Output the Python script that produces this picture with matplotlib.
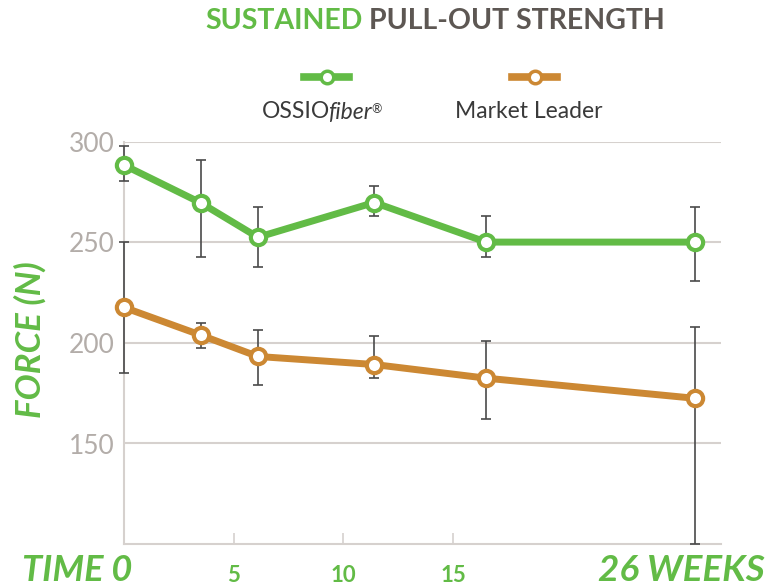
import matplotlib as mpl
mpl.use('Agg')
import matplotlib.pyplot as plt
from matplotlib.lines import Line2D

# weeks after implantation
weeks = [0, 3.5, 6.1, 11.4, 16.5, 26]

# OSSIOfiber pull-out force (N), mean and error bar ends
ossio = [288.5, 269.7, 252.6, 269.9, 250.2, 250.2]
ossio_hi = [298, 291.2, 267.6, 278.2, 263.3, 267.7]
ossio_lo = [280.4, 243, 237.8, 263.3, 242.8, 230.7]

# market leader pull-out force (N)
leader = [217.7, 203.9, 193.3, 189.3, 182.5, 172.5]
leader_hi = [250, 209.9, 206.6, 203.3, 200.8, 208]
leader_lo = [185.2, 197.6, 179, 182.5, 162.3, 100]

yticks = [150, 200, 250, 300]
xticks = [5, 10, 15]

GREEN = '#62bb46'
ORANGE = '#cc8833'
GRID = '#d6d1ce'
TICKGRAY = '#b3ada9'
TITLEGRAY = '#5d5753'
TEXT = '#3a3a3a'

plt.rcParams['font.family'] = ['Lato', 'DejaVu Sans']

W, H = 769, 587
fig = plt.figure(figsize=(W/100, H/100), dpi=100)
ax = fig.add_axes([124/W, 1-544/H, (721-124)/W, (544-142)/H])


def fx(px):
    return px/W


def fy(py):
    return 1-py/H


def draw(a, x, y, lo, hi, color):
    yerr = [[m-l for m, l in zip(y, lo)], [h-m for m, h in zip(y, hi)]]
    a.errorbar(x, y, yerr=yerr, fmt='none', ecolor='#4a4a4a', elinewidth=1.2,
               capsize=3.5, capthick=1.2, zorder=3, clip_on=False)
    a.plot(x, y, '-o', color=color, lw=5, markersize=11, markerfacecolor='white',
           markeredgecolor=color, markeredgewidth=3, zorder=4, clip_on=False)


draw(ax, weeks, ossio, ossio_lo, ossio_hi, GREEN)
draw(ax, weeks, leader, leader_lo, leader_hi, ORANGE)

ax.set_xlim(0, 27.2)
ax.set_ylim(100, 300)
ax.set_yticks(yticks)
ax.set_yticklabels([str(v) for v in yticks], fontsize=19, color=TICKGRAY)
ax.set_xticks(xticks)
ax.set_xticklabels([str(v) for v in xticks], fontsize=16, color=GREEN,
                   fontweight='bold')
ax.grid(axis='y', color=GRID, lw=1.5)
ax.set_axisbelow(True)
for s in ['top', 'right']:
    ax.spines[s].set_visible(False)
for s in ['left', 'bottom']:
    ax.spines[s].set_color(GRID)
    ax.spines[s].set_linewidth(1.5)
ax.tick_params(axis='y', length=0, pad=6.5)
ax.tick_params(axis='x', direction='in', length=8, width=1.2, color=GRID, pad=15)

# title
t1 = fig.text(fx(205), fy(21), 'SUSTAINED', color=GREEN, fontsize=20.5,
              fontweight='bold', ha='left', va='center')
ax.annotate('PULL-OUT STRENGTH', xy=(1, 0.5), xycoords=t1, xytext=(5, 0),
            textcoords='offset points', color=TITLEGRAY, fontsize=20.5,
            fontweight='bold', ha='left', va='center', annotation_clip=False)

# legend
for x0, x1, c in [(304, 349, GREEN), (512, 557, ORANGE)]:
    fig.add_artist(Line2D([fx(x0), fx(x1)], [fy(77), fy(77)], color=c, lw=5.5,
                          transform=fig.transFigure))
    fig.add_artist(Line2D([fx((x0+x1)/2)], [fy(77)], marker='o', markersize=9,
                          markerfacecolor='white', markeredgecolor=c,
                          markeredgewidth=2.5, transform=fig.transFigure))

l1 = fig.text(fx(262), fy(112), 'OSSIO', color=TEXT, fontsize=16.5,
              ha='left', va='center')
l2 = ax.annotate('fiber', xy=(1, 0.5), xycoords=l1, xytext=(-1.5, 0),
                 textcoords='offset points', color=TEXT, fontsize=16.5,
                 style='italic', ha='left', va='center', annotation_clip=False)
ax.annotate('®', xy=(1, 1), xycoords=l2, xytext=(-0.5, -1),
            textcoords='offset points', color=TEXT, fontsize=9,
            ha='left', va='top', annotation_clip=False)
fig.text(fx(455), fy(112), 'Market Leader', color=TEXT, fontsize=16.5,
         ha='left', va='center')

# axis labels
fig.text(fx(30), fy(340), 'FORCE (N)', color=GREEN, fontsize=25,
         fontweight='bold', style='italic', rotation=90, ha='center', va='center')
fig.text(fx(22), fy(581), 'TIME 0', color=GREEN, fontsize=26,
         fontweight='bold', style='italic', ha='left', va='baseline')
fig.text(fx(765), fy(581), '26 WEEKS', color=GREEN, fontsize=26.5,
         fontweight='bold', style='italic', ha='right', va='baseline')

fig.savefig('out.png', dpi=100)
